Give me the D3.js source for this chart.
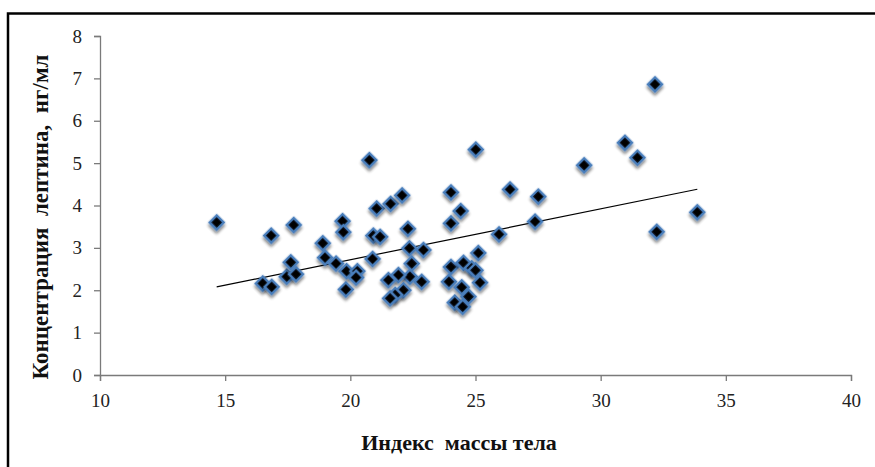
<!DOCTYPE html>
<html><head><meta charset="utf-8">
<script src="https://cdn.jsdelivr.net/npm/d3@7"></script>
<style>body{margin:0;background:#fff}svg{display:block} text{font-family:"Liberation Serif","DejaVu Serif",serif;}</style>
</head><body>
<svg id="c" width="875" height="467"></svg>
<script>
const bmi = [14.66,16.50,16.86,16.84,17.46,17.62,17.74,17.83,18.90,18.99,19.43,19.69,19.72,19.85,20.28,20.23,19.82,20.76,20.89,20.92,21.19,21.05,21.61,22.07,22.30,22.36,22.92,22.45,22.38,22.85,21.92,21.52,22.12,21.79,21.59,24.02,23.94,24.17,24.02,24.02,24.41,25.01,25.11,24.52,24.85,25.00,25.18,24.45,24.72,24.49,25.94,26.38,27.38,27.51,29.34,30.97,31.47,32.17,32.24,33.86];
const leptin = [3.60,2.16,2.08,3.29,2.32,2.66,3.54,2.38,3.11,2.77,2.63,3.63,3.37,2.45,2.45,2.30,2.02,5.07,2.74,3.29,3.26,3.93,4.04,4.24,3.45,2.99,2.95,2.63,2.32,2.20,2.36,2.24,2.00,1.89,1.81,2.55,2.20,1.71,4.31,3.58,3.87,5.32,2.88,2.65,2.52,2.47,2.18,2.07,1.85,1.61,3.32,4.38,3.62,4.21,4.95,5.48,5.13,6.86,3.38,3.84];
// linear trendline as shown in the picture: leptin = trendIntercept + trendSlope * bmi
const trendSlope = 0.12;
const trendIntercept = 0.32;
const xTicks = [10,15,20,25,30,35,40];
const yTicks = [0,1,2,3,4,5,6,7,8];
const xTitle = "Индекс  массы тела";
const yTitle = "Концентрация  лептина,  нг/мл";

const svg = d3.select("#c");
const x = d3.scaleLinear().domain([10,40]).range([100,851]);
const y = d3.scaleLinear().domain([0,8]).range([375,36]);
const font = '"Liberation Serif","DejaVu Serif",serif';

// frame
svg.append("path").attr("d","M8,470 L8,13.5 L880,13.5").attr("fill","none").attr("stroke","#000").attr("stroke-width",2.5);

const defs = svg.append("defs");
const f = defs.append("filter").attr("id","sh").attr("x","-60%").attr("y","-60%").attr("width","220%").attr("height","220%");
f.append("feGaussianBlur").attr("in","SourceAlpha").attr("stdDeviation",1.5).attr("result","b");
f.append("feOffset").attr("in","b").attr("dx",1.5).attr("dy",2).attr("result","o");
f.append("feComponentTransfer").attr("in","o").attr("result","o2").append("feFuncA").attr("type","linear").attr("slope",0.5);
const m = f.append("feMerge"); m.append("feMergeNode").attr("in","o2"); m.append("feMergeNode").attr("in","SourceGraphic");

const axCol = "#7a7a7a";
const gx = svg.append("g").attr("transform","translate(0,375)")
  .call(d3.axisBottom(x).tickValues(xTicks).tickSize(6).tickPadding(13).tickFormat(d3.format("d")));
const gy = svg.append("g").attr("transform","translate(100,0)")
  .call(d3.axisLeft(y).tickValues(yTicks).tickSize(6).tickPadding(12).tickFormat(d3.format("d")));
[gx,gy].forEach(g=>{
  g.attr("font-family",font).attr("font-size",19);
  g.select(".domain").attr("stroke",axCol).attr("stroke-width",1.3);
  g.selectAll(".tick line").attr("stroke",axCol).attr("stroke-width",1.3);
  g.selectAll(".tick text").attr("fill","#222").attr("font-family",font).attr("font-size",19);
});

const [x0,x1] = d3.extent(bmi);
svg.append("line").attr("x1",x(x0)).attr("y1",y(trendIntercept+trendSlope*x0))
  .attr("x2",x(x1)).attr("y2",y(trendIntercept+trendSlope*x1))
  .attr("stroke","#000").attr("stroke-width",1.2);

const sym = d3.symbol().type(d3.symbolSquare).size(100);
svg.append("g").selectAll("path").data(bmi).join("path")
  .attr("d",sym)
  .attr("transform",(d,i)=>`translate(${x(d)},${y(leptin[i])}) rotate(45)`)
  .attr("fill","#000").attr("stroke","#4a7ebb").attr("stroke-width",2.4)
  .attr("filter","url(#sh)");

svg.append("text").attr("x",459).attr("y",450).attr("text-anchor","middle")
  .attr("font-family",font).attr("font-size",22).attr("font-weight","bold").attr("xml:space","preserve").style("white-space","pre")
  .attr("fill","#111").text(xTitle);
svg.append("text").attr("transform","translate(48,217) rotate(-90)").attr("text-anchor","middle")
  .attr("font-family",font).attr("font-size",23).attr("font-weight","bold").attr("xml:space","preserve").style("white-space","pre")
  .attr("fill","#111").text(yTitle);
</script>
</body></html>
